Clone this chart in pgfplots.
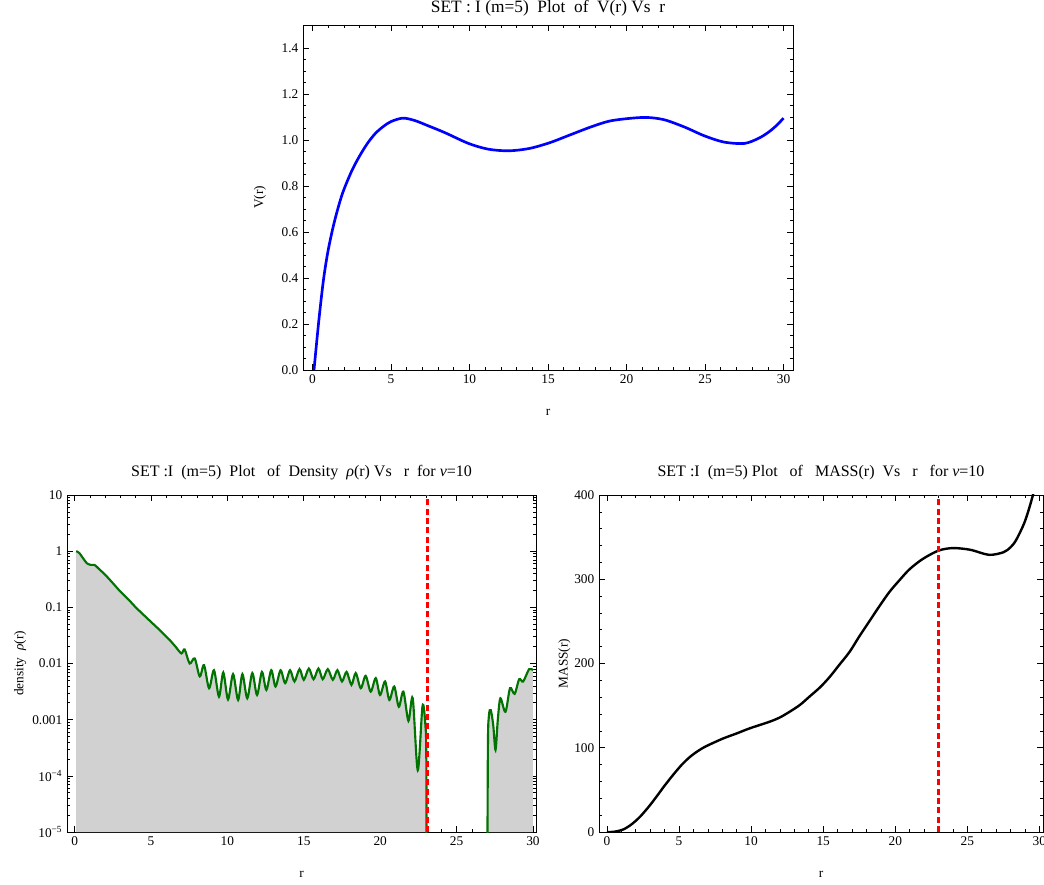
\documentclass[border=0pt]{standalone}
\usepackage{fontspec}
\setmainfont{Liberation Serif}
\usepackage{pgfplots}
\pgfplotsset{compat=1.18}
\usepackage{pgfplotstable}

\definecolor{vblue}{rgb}{0,0,1}
\definecolor{dgreen}{rgb}{0,0.45,0}
\definecolor{fillgray}{rgb}{0.82,0.82,0.82}

\pgfplotstableread{
r V
0.1 0.0
0.4 0.21
0.7 0.39
1.0 0.52
1.4 0.645
1.9 0.765
2.5 0.865
3.0 0.93
3.5 0.985
4.0 1.028
4.5 1.058
5.0 1.08
5.75 1.095
6.5 1.085
7.36 1.062
8.43 1.032
9.94 0.985
11.2 0.96
12.5 0.953
13.8 0.963
15.1 0.988
16.4 1.022
17.7 1.056
18.9 1.082
20.2 1.094
21.3 1.098
22.4 1.088
23.7 1.056
24.96 1.018
26.2 0.991
27.5 0.985
28.4 1.007
29.0 1.032
29.5 1.06
30.0 1.095
}\Vdata

\pgfplotstableread{
r rho
0.1 1.0
0.3 0.93
0.55 0.75
0.8 0.61
1.05 0.57
1.3 0.57
1.6 0.48
2.0 0.38
2.5 0.27
3.0 0.19
3.5 0.14
4.0 0.10
4.5 0.074
5.0 0.055
5.5 0.041
6.0 0.030
6.22 0.0263
6.6 0.020
6.99 0.0151
7.2 0.0178
7.53 0.0100
7.86 0.0123
8.19 0.00589
8.47 0.00933
8.8 0.00363
9.12 0.00759
9.45 0.00257
9.73 0.00692
10.04 0.00229
10.37 0.00646
10.7 0.00224
10.98 0.00646
11.3 0.0024
11.63 0.00676
11.94 0.00275
12.26 0.00708
12.55 0.00339
12.87 0.00759
13.15 0.00389
13.48 0.00759
13.78 0.00447
14.1 0.00759
14.39 0.00479
14.72 0.00794
15.0 0.00513
15.33 0.00813
15.64 0.00525
15.96 0.00813
16.24 0.00525
16.57 0.00794
16.9 0.00513
17.2 0.00759
17.5 0.00479
17.8 0.00708
18.12 0.00417
18.4 0.00676
18.73 0.00363
19.05 0.00603
19.38 0.00316
19.71 0.0055
19.99 0.00275
20.32 0.00479
20.6 0.00224
20.92 0.00389
21.22 0.0017
21.52 0.00316
21.85 0.00095
22.13 0.0024
22.46 0.000126
22.77 0.00174
22.95 0.00087
23.02 0.0002
23.05 0.0000001
}\RhoA

\pgfplotstableread{
r rho
27.0 0.0000001
27.05 0.0003
27.12 0.0012
27.24 0.00148
27.4 0.0008
27.55 0.00029
27.7 0.001
27.87 0.0024
28.2 0.00138
28.5 0.00363
28.8 0.00288
29.1 0.00525
29.36 0.00479
29.75 0.00794
30.0 0.00759
}\RhoB

\pgfplotstableread{
r M
0 0
0.5 0.3
1.13 3
1.7 9
2.29 18
2.9 30
3.44 42
4.0 55
4.6 68
5.2 80
5.75 89
6.3 96
6.9 102
8.06 111
9.0 117
9.9 123
11.3 131
12.0 136
12.7 143
13.4 151
14.07 161
14.8 172
15.45 184
16.1 198
16.84 214
17.5 232
18.2 250
18.9 268
19.6 285
20.3 299
21.0 312
21.9 324
23.0 334
24.0 337
25.2 335
26.5 329
27.5 332
28.0 338
28.4 347
29.0 369
29.55 400
30.0 435
}\Mdata

\pgfplotsset{
 every axis title shift=0pt,
 mma/.style={
  scale only axis,
  axis line style={line width=0.6pt},
  every tick/.style={black, line width=0.5pt},
  major tick length=4.5pt,
  minor tick length=2.6pt,
  tick align=inside,
  ticklabel style={font=\fontsize{10}{12}\selectfont},
  title style={font=\fontsize{12}{14}\selectfont, at={(0.5,1)}, anchor=base, yshift=13.5pt},
  label style={font=\fontsize{10}{12}\selectfont},
  xlabel style={at={(axis description cs:0.5,0)}, anchor=base, yshift=-34pt},
  xtick={0,5,10,15,20,25,30},
  xticklabels={0,5,10,15,20,25,30},
  minor x tick num=4,
 }
}

\begin{document}
\begin{tikzpicture}
\path[use as bounding box] (0,0) rectangle (783pt,663pt);

% Top: V(r)
\begin{axis}[mma, at={(227.25pt,385.5pt)}, anchor=south west,
  width=367.5pt, height=258.75pt,
  xmin=-0.6, xmax=30.6, ymin=0, ymax=1.5,
  ytick={0,0.2,0.4,0.6,0.8,1.0,1.2,1.4},
  yticklabels={0.0,0.2,0.4,0.6,0.8,1.0,1.2,1.4},
  minor y tick num=3,
  title style={font=\fontsize{13}{15}\selectfont, yshift=-4.5pt},
  title={SET~: I~(m=5)~~Plot~~of~~V(r)~Vs~~r},
  xlabel={r}, ylabel={V(r)},
  ylabel style={at={(axis description cs:-0.088,0.5)}, anchor=center}]
\addplot[vblue, line width=2pt, smooth] table[x=r,y=V] {\Vdata};
\end{axis}

% Bottom left: density
\begin{axis}[mma, at={(50.25pt,39pt)}, anchor=south west,
  width=351.75pt, height=252.75pt,
  xmin=-0.5, xmax=30.2, ymode=log, log origin y=infty,
  ymin=1e-5, ymax=10,
  ytick={1e-5,1e-4,1e-3,1e-2,1e-1,1,10},
  yticklabels={10\textsuperscript{−5},10\textsuperscript{−4},0.001,0.01,0.1,1,10},
  minor ytick={2e-5,3e-5,4e-5,5e-5,6e-5,7e-5,8e-5,9e-5,
    2e-4,3e-4,4e-4,5e-4,6e-4,7e-4,8e-4,9e-4,
    2e-3,3e-3,4e-3,5e-3,6e-3,7e-3,8e-3,9e-3,
    2e-2,3e-2,4e-2,5e-2,6e-2,7e-2,8e-2,9e-2,
    2e-1,3e-1,4e-1,5e-1,6e-1,7e-1,8e-1,9e-1,
    2,3,4,5,6,7,8,9},
  title={SET~:I~~(m=5)~~Plot~~~of~~Density~~{\itshape ρ}(r)~Vs~~~r~~for~{\itshape ν}=10},
  xlabel={r}, ylabel={density~~{\itshape ρ}(r)},
  ylabel style={at={(axis description cs:-0.1,0.5)}, anchor=center}]
\addplot[fill=fillgray, draw=none, smooth, tension=0.5] table[x=r,y=rho] {\RhoA} \closedcycle;
\addplot[fill=fillgray, draw=none, smooth, tension=0.5] table[x=r,y=rho] {\RhoB} \closedcycle;
\addplot[dgreen, line width=1.6pt, smooth, tension=0.5] table[x=r,y=rho] {\RhoA};
\addplot[dgreen, line width=1.6pt, smooth, tension=0.5] table[x=r,y=rho] {\RhoB};
\addplot[red, line width=1.8pt, dash pattern=on 4.5pt off 2.5pt] coordinates {(23.1,1e-5) (23.1,10)};
\end{axis}

% Bottom right: mass
\begin{axis}[mma, at={(449.25pt,39pt)}, anchor=south west,
  width=333pt, height=252.75pt,
  xmin=-0.55, xmax=30.25, ymin=0, ymax=400,
  ytick={0,100,200,300,400},
  yticklabels={0,100,200,300,400},
  minor y tick num=4,
  title={SET~:I~~(m=5)~Plot~~~of~~~MASS(r)~~Vs~~~r~~~for~{\itshape ν}=10},
  xlabel={r}, ylabel={MASS(r)},
  ylabel style={at={(axis description cs:-0.078,0.5)}, anchor=center}]
\addplot[black, line width=1.8pt, smooth] table[x=r,y=M] {\Mdata};
\addplot[red, line width=1.8pt, dash pattern=on 4.5pt off 2.5pt] coordinates {(23.0,0) (23.0,400)};
\end{axis}
\end{tikzpicture}
\end{document}
